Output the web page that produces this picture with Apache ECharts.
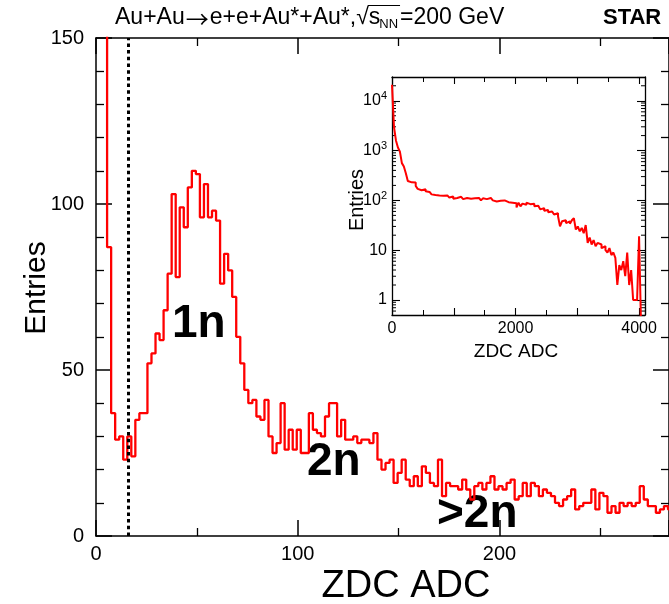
<!DOCTYPE html>
<html>
<head>
<meta charset="utf-8">
<script src="https://cdn.jsdelivr.net/npm/echarts@6/dist/echarts.min.js"></script>
<style>
  html, body { margin: 0; padding: 0; background: #ffffff; }
  #chart { width: 669px; height: 604px; }
</style>
</head>
<body>
<div id="chart"></div>
<script>
// Low-range ZDC ADC spectrum: 2-count bins, first bin starts at -0.5
const zdcBinStart = -0.5;
const zdcBinWidth = 2;
const zdcEntries = [
  12000, 5200, 1400, 87, 37, 29, 30, 23, 30, 24,
  35, 37, 37, 52, 55, 61, 59, 68, 79, 103,
  78, 99, 93, 105, 110, 109, 96, 106, 96, 98,
  95, 76, 85, 80, 72, 60, 52, 44, 40, 41,
  36, 35, 41, 30, 25, 28, 40, 26, 32, 26,
  32, 25, 25, 37, 32, 31, 30, 36, 40, 40,
  30, 35, 29, 29, 30, 28, 29, 29, 28, 31,
  23, 20, 22, 23, 16, 19, 23, 17, 15, 18,
  15, 21, 19, 16, 15, 23, 12, 16, 15, 15,
  14, 17, 14, 11, 15, 16, 14, 16, 18, 14,
  15, 14, 16, 17, 11, 12, 16, 12, 16, 15,
  12, 14, 13, 12, 10, 9, 11, 12, 14, 8,
  9, 10, 10, 14, 8, 13, 12, 7, 9, 7,
  10, 9, 10, 9, 10, 15, 11, 9, 9, 7,
  8, 9, 8
];

// Full-range spectrum (inset): 32-count bins from 0 to 4096
const fullBinStart = 0;
const fullBinWidth = 32;
const fullEntries = [
  21000, 3000, 1600, 1150, 950, 560, 480, 350, 245, 230,
  235, 228, 195, 170, 160, 158, 168, 152, 148, 140,
  132, 128, 130, 125, 128, 124, 120, 126, 118, 114,
  120, 108, 112, 104, 118, 110, 106, 112, 120, 108,
  116, 110, 104, 112, 108, 100, 110, 106, 98, 112,
  104, 100, 95, 104, 98, 94, 100, 96, 92, 96,
  90, 94, 88, 72, 90, 76, 86, 82, 90, 84,
  80, 86, 76, 78, 72, 66, 70, 62, 64, 58,
  60, 56, 52, 55, 48, 30, 38, 40, 35, 38,
  34, 40, 44, 26, 30, 24, 28, 22, 32, 14,
  18, 13, 16, 12, 14, 13, 11, 12, 10, 9,
  11, 8, 9, 7, 2, 5, 4, 6, 3, 9,
  2, 4, 1, 1, 1, 19, 0, 0
];

// Neutron-number threshold and region labels
const cutAdc = 16;
const regionLabels = ['1n', '2n', '>2n'];

// Axis ranges
const mainXRange = [0, 284];
const mainYRange = [0, 150];
const insetXRange = [0, 4096];
const insetYRange = [0.5, 30000];
// log-axis minor tick mantissas
const logMinorMantissas = [2, 3, 4, 5, 6, 7, 8, 9];

const titleParts = { a: 'Au+Au', arrow: '\u2192', b: 'e+e+Au*+Au*,', root: '\u221A', s: 's', sub: 'NN', post: '=200 GeV' };
const experiment = 'STAR';
const xTitle = 'ZDC ADC';
const yTitle = 'Entries';

const FONT = '"Liberation Sans", Arial, Helvetica, sans-serif';
const BLACK = '#000000';
const RED = '#ff0000';

// Turn bin contents into histogram outline points (left edge of each bin + final right edge).
// On a log axis, empty bins are pushed under the frame so they sit on its bottom edge.
function histogramOutline(start, width, counts, floorValue) {
  const pts = counts.map((c, i) => {
    const v = floorValue !== undefined ? Math.max(c, floorValue) : c;
    return [start + i * width, v];
  });
  pts.push([start + counts.length * width, pts[pts.length - 1][1]]);
  return pts;
}

function frameAxis(common, extra) {
  return Object.assign({}, common, extra);
}

const mainXCommon = {
  gridIndex: 0, type: 'value', min: mainXRange[0], max: mainXRange[1], interval: 100,
  axisLine: { show: true, onZero: false, lineStyle: { color: BLACK, width: 1.5 } },
  axisTick: { show: true, inside: true, length: 16, lineStyle: { color: BLACK, width: 1.5 } },
  minorTick: { show: true, splitNumber: 2, length: 8, lineStyle: { color: BLACK, width: 1.3 } },
  splitLine: { show: false }, minorSplitLine: { show: false }
};
const mainYCommon = {
  gridIndex: 0, type: 'value', min: mainYRange[0], max: mainYRange[1], interval: 50,
  axisLine: { show: true, onZero: false, lineStyle: { color: BLACK, width: 1.5 } },
  axisTick: { show: true, inside: true, length: 16, lineStyle: { color: BLACK, width: 1.5 } },
  minorTick: { show: true, splitNumber: 5, length: 8, lineStyle: { color: BLACK, width: 1.3 } },
  splitLine: { show: false }, minorSplitLine: { show: false }
};
const insetXCommon = {
  gridIndex: 1, type: 'value', min: insetXRange[0], max: insetXRange[1], interval: 1000,
  axisLine: { show: true, onZero: false, lineStyle: { color: BLACK, width: 1.3 } },
  axisTick: { show: true, inside: true, length: 7, lineStyle: { color: BLACK, width: 1.1 } },
  minorTick: { show: true, splitNumber: 2, length: 5, lineStyle: { color: BLACK, width: 1 } },
  splitLine: { show: false }, minorSplitLine: { show: false }
};
const insetYCommon = {
  gridIndex: 1, type: 'log', logBase: 10, min: insetYRange[0], max: insetYRange[1],
  axisLine: { show: true, onZero: false, lineStyle: { color: BLACK, width: 1.3 } },
  axisTick: { show: true, inside: true, length: 8, lineStyle: { color: BLACK, width: 1.1 } },
  splitLine: { show: false }
};

function logLabel(v) {
  const p = Math.log10(v);
  const r = Math.round(p);
  if (Math.abs(p - r) > 1e-6 || r < 0) return '';
  if (r === 0) return '1';
  if (r === 1) return '10';
  return '10{sup|' + r + '}';
}

// Minor tick values for the inset log axis (2..9 times each decade inside the range)
const insetMinorTicks = [];
for (let e = -1; e <= 4; e++) {
  logMinorMantissas.forEach(m => {
    const v = m * Math.pow(10, e);
    if (v > insetYRange[0] && v < insetYRange[1]) insetMinorTicks.push(v);
  });
}

// Title pieces are laid out from measured text widths
const measureCtx = document.createElement('canvas').getContext('2d');
function textWidth(str, font) { measureCtx.font = font; return measureCtx.measureText(str).width; }

const titleSize = 23;
const titleFont = titleSize + 'px ' + FONT;
const arrowFont = '23px "Noto Sans CJK JP", "DejaVu Sans", sans-serif';
const subFont = '13px ' + FONT;
const titleY = 18;
let tx = 115;
const titleGraphics = [];
function addTitleText(str, font, x, y) {
  titleGraphics.push({ type: 'text', x: x, y: y, silent: true,
    style: { text: str, font: font, fill: BLACK, align: 'left', verticalAlign: 'middle' } });
}
addTitleText(titleParts.a, titleFont, tx, titleY);
tx += textWidth(titleParts.a, titleFont) + 1;
addTitleText(titleParts.arrow, arrowFont, tx, titleY + 1);
tx += textWidth(titleParts.arrow, arrowFont) + 1;
addTitleText(titleParts.b, titleFont, tx, titleY);
tx += textWidth(titleParts.b, titleFont);
addTitleText(titleParts.root, titleFont, tx, titleY);
tx += textWidth(titleParts.root, titleFont) - 1;
const overStart = tx;
addTitleText(titleParts.s, titleFont, tx + 1, titleY);
tx += textWidth(titleParts.s, titleFont) + 1;
addTitleText(titleParts.sub, subFont, tx - 1, titleY + 6);
tx += textWidth(titleParts.sub, subFont);
titleGraphics.push({ type: 'line', silent: true,
  shape: { x1: overStart, y1: 5.5, x2: tx + 1, y2: 5.5 },
  style: { stroke: BLACK, lineWidth: 1.2 } });
addTitleText(titleParts.post, titleFont, tx + 1, titleY);

const chart = echarts.init(document.getElementById('chart'), null, { renderer: 'canvas' });

chart.setOption({
  backgroundColor: '#ffffff',
  animation: false,
  grid: [
    { left: 96, top: 38, width: 573, height: 498, containLabel: false },
    { left: 392, top: 77, width: 253, height: 238, containLabel: false, show: true, backgroundColor: '#ffffff', borderWidth: 0 }
  ],
  xAxis: [
    frameAxis(mainXCommon, {
      position: 'bottom',
      axisLabel: { show: true, margin: 8, fontSize: 20, color: BLACK, fontFamily: FONT,
        showMaxLabel: false, formatter: v => (v % 100 === 0 ? String(v) : '') }
    }),
    frameAxis(mainXCommon, { position: 'top', axisLabel: { show: false } }),
    frameAxis(insetXCommon, {
      position: 'bottom',
      axisLabel: { show: true, margin: 6, fontSize: 16, color: BLACK, fontFamily: FONT,
        showMaxLabel: false, formatter: v => (v % 2000 === 0 ? String(v) : '') }
    }),
    frameAxis(insetXCommon, { position: 'top', axisLabel: { show: false } })
  ],
  yAxis: [
    frameAxis(mainYCommon, {
      position: 'left',
      axisLabel: { show: true, margin: 12, fontSize: 20, color: BLACK, fontFamily: FONT }
    }),
    frameAxis(mainYCommon, { position: 'right', axisLabel: { show: false } }),
    frameAxis(insetYCommon, {
      position: 'left',
      axisLabel: { show: true, margin: 5, fontSize: 16, color: BLACK, fontFamily: FONT,
        showMinLabel: false, showMaxLabel: false, formatter: logLabel,
        rich: { sup: { fontSize: 11, fontFamily: FONT, color: BLACK, verticalAlign: 'top', padding: [0, 0, 9, 0] } } }
    }),
    frameAxis(insetYCommon, { position: 'right', axisLabel: { show: false } })
  ],
  series: [
    {
      name: 'low range', type: 'line', xAxisIndex: 0, yAxisIndex: 0,
      data: histogramOutline(zdcBinStart, zdcBinWidth, zdcEntries),
      step: 'end', symbol: 'none', showSymbol: false, clip: true,
      lineStyle: { color: RED, width: 2.3 },
      markLine: {
        silent: true, symbol: ['none', 'none'], label: { show: false },
        lineStyle: { color: BLACK, width: 3, type: [3.5, 3.2] },
        data: [{ xAxis: cutAdc }]
      }
    },
    {
      name: 'full range', type: 'line', xAxisIndex: 2, yAxisIndex: 2,
      data: histogramOutline(fullBinStart, fullBinWidth, fullEntries, 0.3),
      step: 'end', symbol: 'none', showSymbol: false, clip: true,
      lineStyle: { color: RED, width: 2 }
    },
    {
      // short minor ticks on both vertical edges of the inset's log frame
      name: 'log minor ticks', type: 'custom', xAxisIndex: 2, yAxisIndex: 2, silent: true,
      data: insetMinorTicks.map(v => [insetXRange[0], v]),
      renderItem: (params, api) => {
        const v = api.value(1);
        const left = api.coord([insetXRange[0], v]);
        const right = api.coord([insetXRange[1], v]);
        const style = { stroke: BLACK, lineWidth: 1 };
        return { type: 'group', children: [
          { type: 'line', shape: { x1: left[0], y1: left[1], x2: left[0] + 4, y2: left[1] }, style: style },
          { type: 'line', shape: { x1: right[0] - 4, y1: right[1], x2: right[0], y2: right[1] }, style: style }
        ] };
      }
    }
  ],
  graphic: titleGraphics.concat([
    { type: 'text', x: 603, y: titleY, silent: true,
      style: { text: experiment, font: 'bold 22px ' + FONT, fill: BLACK, align: 'left', verticalAlign: 'middle' } },
    { type: 'text', x: 37, y: 288, rotation: Math.PI / 2, silent: true,
      style: { text: yTitle, font: '30px ' + FONT, fill: BLACK, align: 'center', verticalAlign: 'middle' } },
    { type: 'text', x: 406, y: 587, silent: true,
      style: { text: xTitle, font: '38px ' + FONT, fill: BLACK, align: 'center', verticalAlign: 'middle' } },
    { type: 'text', x: 357, y: 200, rotation: Math.PI / 2, silent: true,
      style: { text: yTitle, font: '20px ' + FONT, fill: BLACK, align: 'center', verticalAlign: 'middle' } },
    { type: 'text', x: 516, y: 352, silent: true,
      style: { text: xTitle, font: '19px ' + FONT, fill: BLACK, align: 'center', verticalAlign: 'middle' } },
    { type: 'text', x: 172, y: 324, silent: true,
      style: { text: regionLabels[0], font: 'bold 46px ' + FONT, fill: BLACK, align: 'left', verticalAlign: 'middle' } },
    { type: 'text', x: 307, y: 462, silent: true,
      style: { text: regionLabels[1], font: 'bold 46px ' + FONT, fill: BLACK, align: 'left', verticalAlign: 'middle' } },
    { type: 'text', x: 437, y: 514, silent: true,
      style: { text: regionLabels[2], font: 'bold 46px ' + FONT, fill: BLACK, align: 'left', verticalAlign: 'middle' } }
  ])
});
</script>
</body>
</html>
